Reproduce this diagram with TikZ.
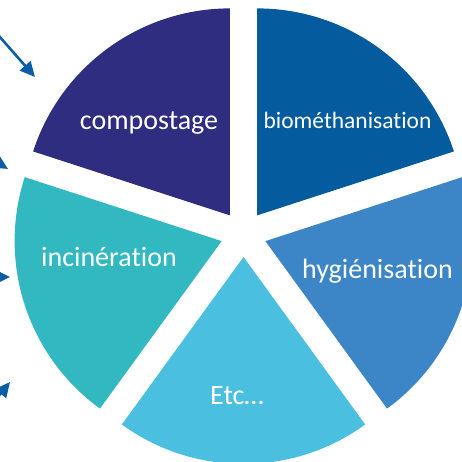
\documentclass[tikz,border=0pt]{standalone}
\usepackage{fontspec}
\setmainfont{Carlito}[RawFeature=-liga]
\usetikzlibrary{arrows.meta}

\definecolor{compost}{HTML}{2E2D80}
\definecolor{biometh}{HTML}{045B9E}
\definecolor{hygien}{HTML}{3C85C6}
\definecolor{etcpart}{HTML}{4BBFE0}
\definecolor{inciner}{HTML}{31B8C1}
\definecolor{arrowblue}{HTML}{0B5EA6}

\tikzset{
   lbl/.style={text=white,anchor=base,inner sep=0pt,font=\fontsize{28}{30}\selectfont},
   feed/.style={->,draw=arrowblue,fill=arrowblue,line width=2.6pt}
}

\begin{document}
\begin{tikzpicture}[x=1pt,y=1pt,>={Triangle[length=15pt,width=14pt]}]
   \useasboundingbox (0,0) rectangle (462,-462);
   \coordinate (c) at (243.5,-234);

   % pie parts, pulled out from the middle
   \fill[compost] (c) ++(126:23) -- ++(90:207)  arc(90:162:207)  -- cycle;
   \fill[biometh] (c) ++(54:23)  -- ++(18:207)  arc(18:90:207)   -- cycle;
   \fill[hygien]  (c) ++(-18:23) -- ++(-54:207) arc(-54:18:207)  -- cycle;
   \fill[etcpart] (c) ++(-90:23) -- ++(-126:207) arc(-126:-54:207) -- cycle;
   \fill[inciner] (c) ++(198:23) -- ++(162:207) arc(162:234:207) -- cycle;

   \node[lbl] (p0) at (149,-130)   {compostage};
   \node[lbl,font=\fontsize{23.5}{26}\selectfont] (p1) at (347.5,-129) {biométhanisation};
   \node[lbl] (p2) at (377.5,-278) {hygiénisation};
   \node[lbl] (p3) at (237,-404)   {Etc…};
   \node[lbl] (p4) at (109,-266)   {incinération};

   % arrows coming in from the left
   \coordinate (s1) at (-30,-3);   \coordinate (e1) at (35,-77);
   \coordinate (s2) at (-40,-140); \coordinate (e2) at (8,-169);
   \coordinate (s3) at (-40,-277); \coordinate (e3) at (10,-277);
   \coordinate (s4) at (-25,-425); \coordinate (e4) at (10,-382);

   \draw[feed] (s1) -- (e1);
   \draw[feed] (s2) -- (e2);
   \draw[feed] (s3) -- (e3);
   \draw[feed] (s4) -- (e4);
\end{tikzpicture}
\end{document}
